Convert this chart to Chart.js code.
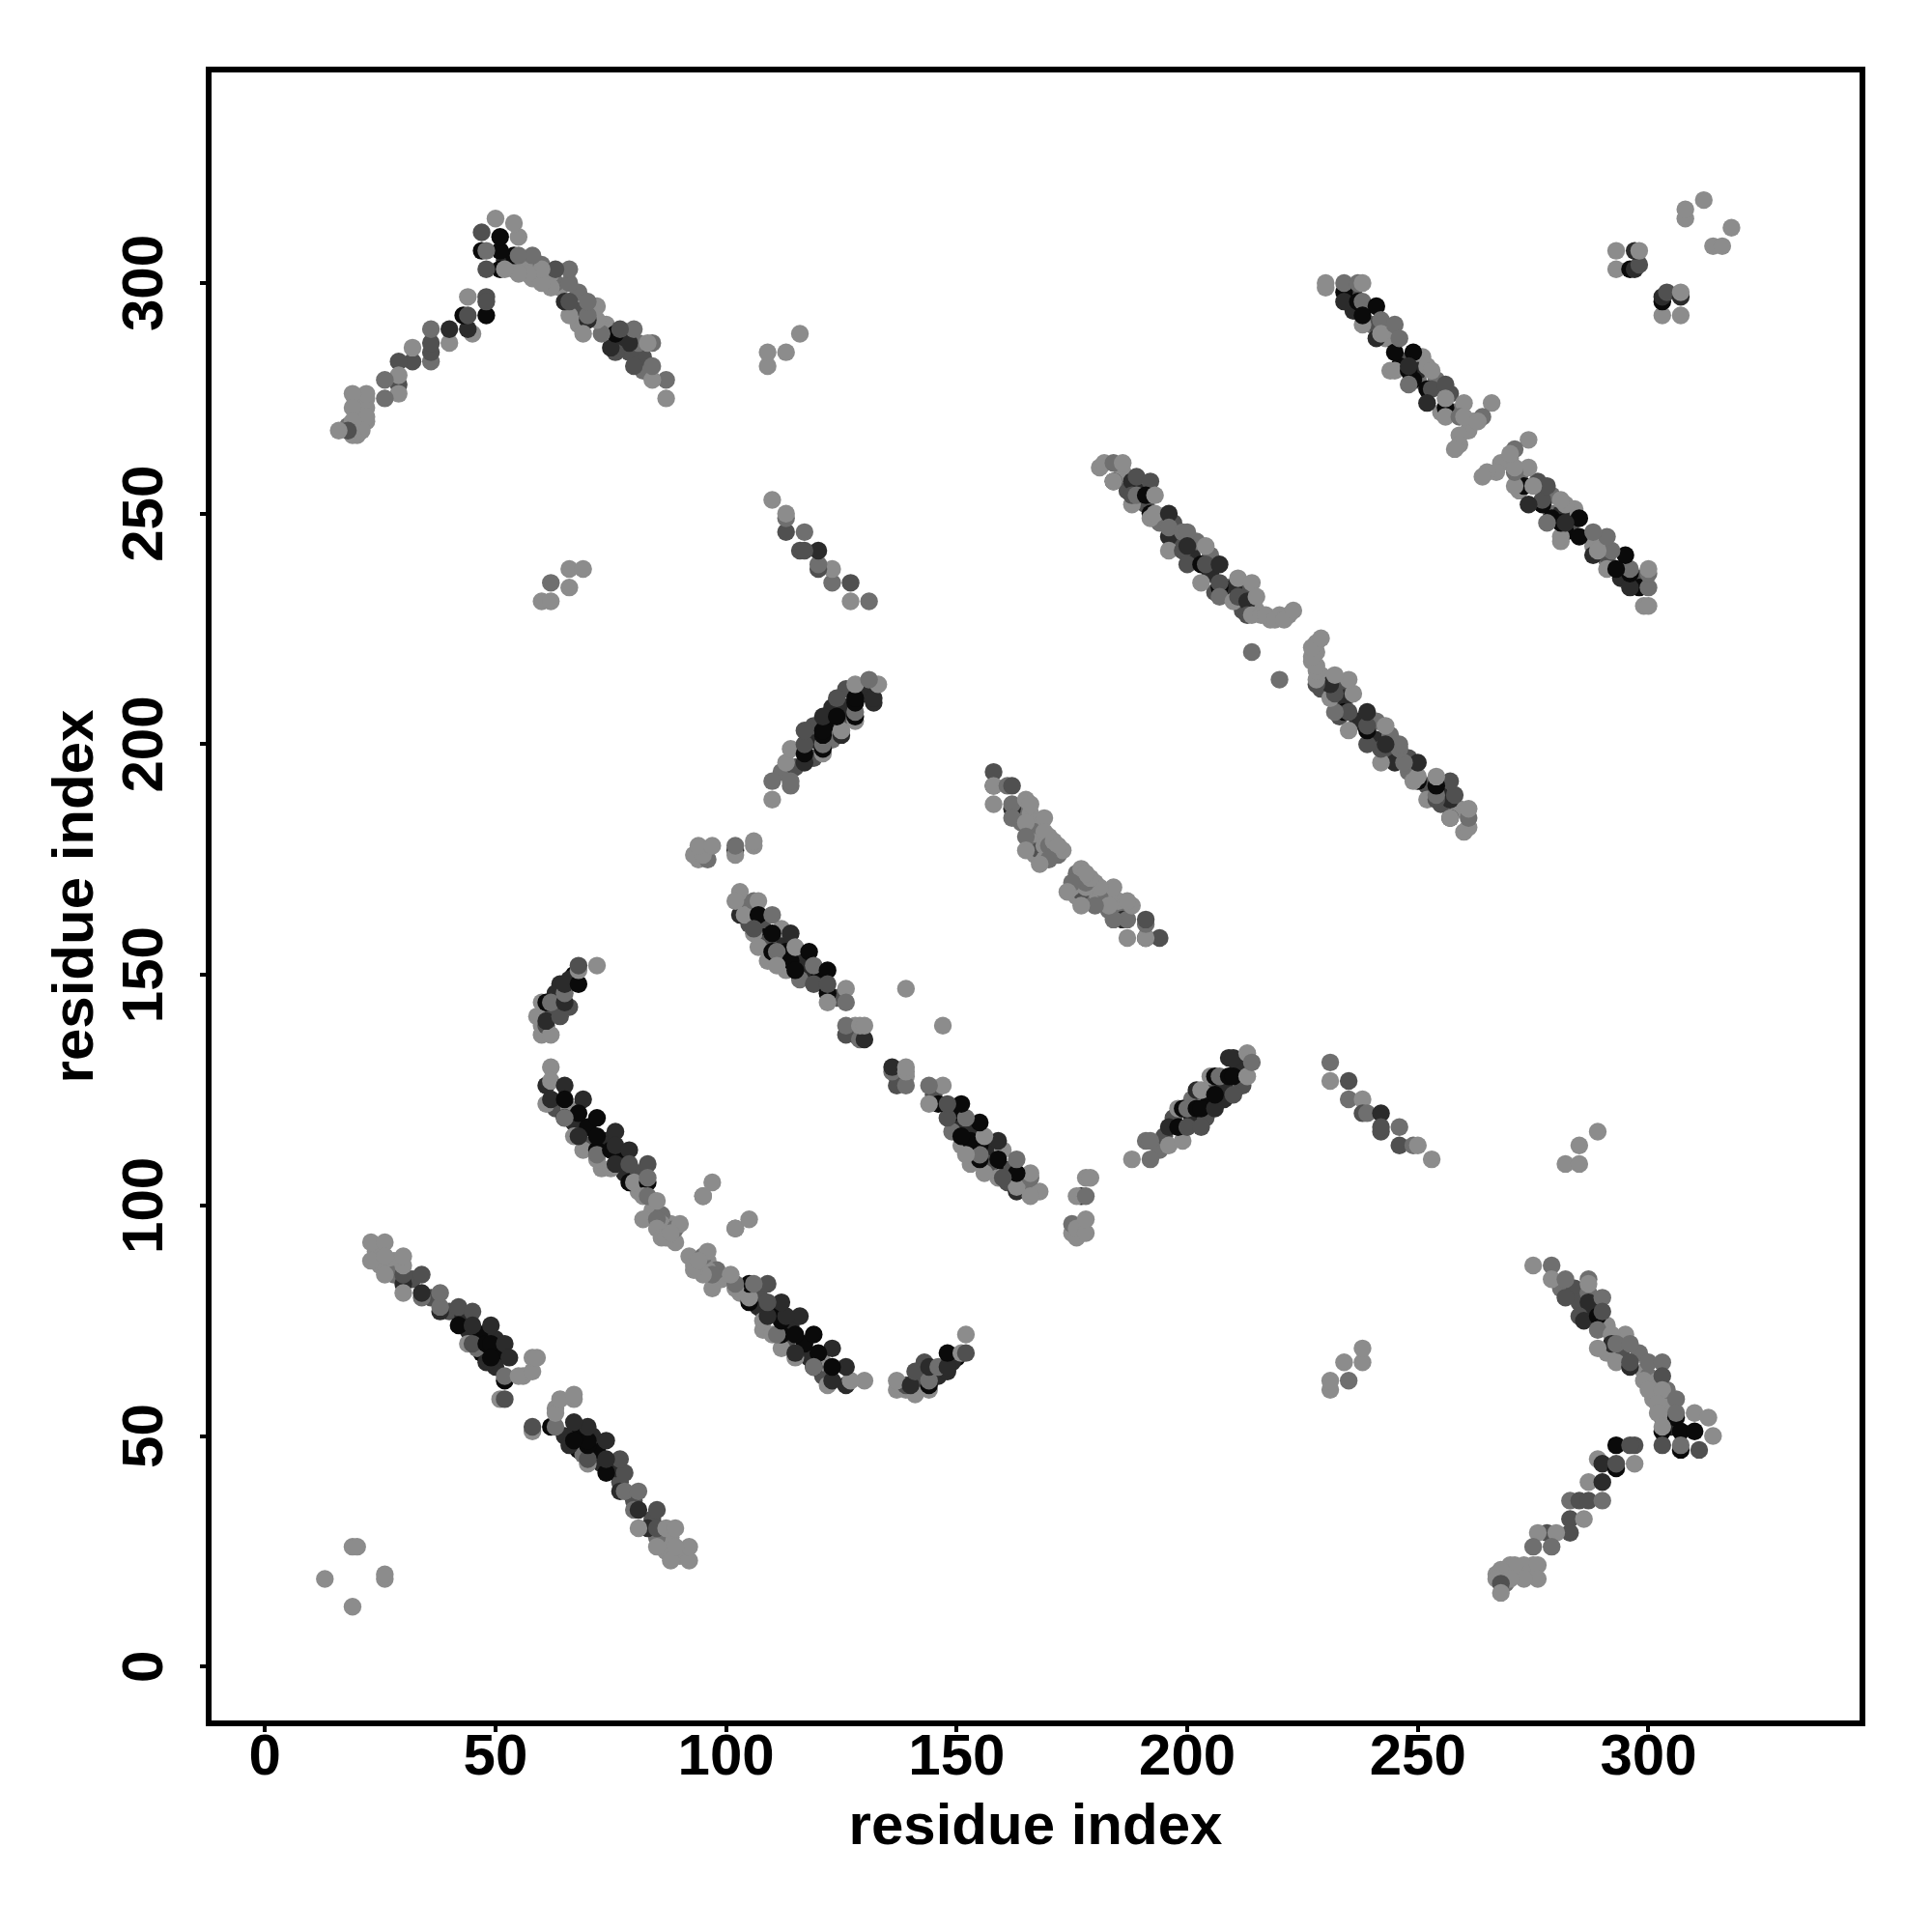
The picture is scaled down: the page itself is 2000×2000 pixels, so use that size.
<!DOCTYPE html>
<html>
<head>
<meta charset="utf-8">
<title>residue contact map</title>
<script src="https://cdn.jsdelivr.net/npm/chart.js@4/dist/chart.umd.min.js"></script>
<style>
  html, body { margin: 0; padding: 0; background: #fff; }
  canvas { display: block; }
</style>
</head>
<body>
<canvas id="contact-map" width="2000" height="2000"></canvas>
<script>
// Contacts as [residue i, residue j, score 1-5].
// The map is symmetric, each contact is only listed once.
const cornerLow = [[13,19,1],[19,26,1],[20,26,1]];
const strandA = [
  [24,90,1],[25,87,1],[28,88,1],[28,85,2],[32,84,3],[36,80,3],[40,77,3],[43,76,4],[44,73,4],[47,72,5],[50,71,4],
  [47,68,5],[51,68,5],[50,65,4],[46,69,2],
  [23,92,1],[26,92,1],[23,88,1],[26,89,1],[26,85,1],[30,83,4],[30,85,3],[30,87,1],[30,89,1],[30,81,1],
  [34,80,2],[34,81,4],[34,85,3],[38,77,4],[38,78,2],[38,81,2],[42,74,5],[42,78,3],[45,77,3],[45,74,4],
  [49,74,4],[44,70,1],[45,70,3],[48,70,5],[49,70,5],[52,70,4],[48,66,4],[49,67,5],[53,67,4],[52,62,5],
  [52,63,2],[51,58,1],[52,58,3],[56,63,1],[55,63,1],[58,64,1],[58,67,1],[59,67,1]
];
const strandB = [
  [63,146,4],[66,143,3],[63,143,4],[60,139,1],[62,142,3],[61,138,1],[67,150,5],[66,149,4],
  [59,141,1],[60,137,1],[61,139,3],[62,137,1],[61,140,4],[64,141,3],[60,144,1],[61,144,5],[62,144,2],
  [65,144,4],[64,148,4],[65,146,2],[65,148,4],[68,148,5],[68,151,1],[68,152,3],[72,152,1]
];
const strandC = [
  [63,121,3],[67,118,4],[70,117,5],[74,114,4],[77,110,5],[78,107,4],[81,107,3],[70,113,3],[66,121,1],[73,108,1],
  [69,112,1],[81,103,1],[84,99,1],[88,96,1],[87,95,2],[89,92,1],[86,98,2],[86,96,1],
  [62,130,1],[61,126,4],[62,127,1],[65,126,4],[61,122,1],[62,123,4],[65,123,5],[69,123,4],[68,120,5],
  [65,119,5],[65,119,2],[72,119,5],[67,115,1],[68,115,4],[72,112,5],[72,115,5],[72,110,1],[72,111,2],
  [76,116,4],[75,112,5],[76,113,4],[79,112,4],[75,108,1],[76,109,4],[79,109,3],[79,105,5],[80,105,1],
  [83,109,3],[83,105,5],[83,106,2],[82,102,1],[83,102,2],[85,101,1],[82,97,1],[85,97,2],[85,95,1],
  [86,93,1],[87,93,1],[89,95,2],[90,96,1],[88,94,1],[95,102,2],[95,102,1],[97,105,1]
];
const strandD = [
  [105,161,3],[108,160,5],[112,158,4],[109,157,3],[113,155,5],[116,153,4],[117,150,4],[120,149,5],[109,153,1],
  [113,151,1],[116,149,2],[124,145,3],[105,165,2],[108,162,3],[112,160,1],[128,137,3],[128,139,1],
  [103,166,2],[103,163,4],[103,168,1],[102,166,1],[104,163,1],[106,166,2],[107,166,1],[107,163,5],[110,163,2],
  [106,159,1],[106,160,3],[110,159,5],[114,159,4],[107,156,1],[110,155,5],[111,155,2],[114,153,5],[115,156,1],
  [118,155,5],[111,152,1],[115,151,5],[119,152,2],[122,151,5],[119,148,3],[122,146,5],[122,148,3],[126,147,1],
  [122,144,1],[126,144,2],[126,137,3],[126,139,2],[129,136,2],[130,136,4],[129,139,1],[130,139,1],[139,147,1]
];
const strandE = [
  [163,185,2],[164,183,2],[166,185,1],[167,183,1],[167,181,2],[168,179,2],[166,179,1],[166,177,2],[167,176,1],
  [169,176,2],[168,177,3],[170,180,1],[172,176,2],[171,177,2],[169,175,1],[173,177,1],
  [158,194,3],[158,191,4],[158,191,1],[161,191,2],[162,191,3],[158,187,1],[162,186,4],[162,187,2],[165,188,1],
  [166,187,1],[162,184,2],[169,184,1],[165,183,1],[165,180,2],[165,177,1],[169,181,1],[169,178,1],[170,178,2],
  [171,179,1],[172,178,1],[170,175,2],[168,174,1]
];
const strandF = [
  [194,112,2],[195,115,3],[197,119,3],[201,119,4],[204,122,5],[205,125,3],[208,126,4],[211,130,4],[204,119,3],
  [212,126,3],[201,123,2],[208,123,4],
  [175,94,1],[175,96,2],[176,93,1],[176,95,1],[178,94,1],[178,97,1],[177,102,4],[176,102,1],[178,102,2],
  [178,106,1],[179,106,1],[188,110,1],[192,110,2],[191,114,2],[192,114,2],[196,113,1],[199,114,1],[196,117,4],
  [198,117,5],[200,117,3],[203,117,3],[198,121,1],[199,121,5],[200,121,2],[202,121,5],[203,121,5],[206,121,4],
  [202,125,4],[203,125,1],[206,124,5],[210,124,3],[205,128,1],[206,128,5],[207,128,2],[209,128,5],[210,128,5],
  [213,128,1],[209,132,4],[210,132,4],[213,133,1],[214,131,2]
];
const strandG = [
  [231,131,2],[231,127,1],[235,127,3],[235,123,2],[238,123,1],[238,120,3],[239,120,2],[242,120,4],[242,116,3],
  [242,117,3],[246,117,2],[246,113,3],[249,113,2],[250,113,1],[253,110,1]
];
const strandH = [
  [186,258,2],[187,255,3],[190,253,2],[194,248,2],[198,244,3],[201,241,4],[202,244,2],[205,237,4],[206,233,3],
  [209,234,2],[212,233,3],[189,255,4],[186,259,1],[191,252,3],[197,248,3],[205,241,2],[215,229,1],[218,227,1],
  [220,228,1],[222,228,1],[212,229,3],[210,234,4],
  [181,260,1],[182,261,1],[184,257,4],[184,257,1],[184,261,2],[186,261,1],[188,257,4],[189,258,3],[192,257,3],
  [188,252,1],[188,254,3],[189,254,2],[191,254,5],[193,254,1],[192,250,5],[192,249,1],[193,250,1],[196,250,4],
  [196,245,4],[196,247,2],[199,246,2],[200,246,2],[196,242,1],[199,242,3],[200,243,4],[204,243,1],[200,239,3],
  [203,239,5],[204,239,3],[207,239,4],[203,235,1],[207,234,5],[207,235,3],[211,236,1],[214,235,1],[207,232,2],
  [210,231,1],[211,232,3],[213,231,4],[215,232,1],[213,228,3],[214,228,1],[216,228,1],[217,228,1],[219,227,1],
  [221,227,1],[223,229,1],[214,220,2]
];
const strandJ = [
  [243,288,1],[240,291,2],[236,294,4],[247,283,3],[250,279,2],[251,284,1],[254,279,2],[257,276,3],[258,272,2],
  [255,272,1],[262,270,1],[261,268,1],[246,282,5],[250,281,4],[249,279,5],[236,298,3],[241,291,3],
  [230,299,1],[230,300,1],[234,298,5],[234,296,4],[234,300,2],[237,300,2],[238,300,1],[237,296,5],[238,296,2],
  [241,295,5],[238,291,1],[238,293,5],[241,288,4],[242,292,2],[242,289,1],[245,291,2],[245,285,5],[246,288,2],
  [249,285,5],[244,281,1],[245,281,1],[248,281,5],[248,282,4],[252,282,1],[253,281,1],[252,277,5],[253,277,3],
  [256,278,3],[248,278,2],[252,274,4],[256,273,5],[256,275,1],[256,271,1],[260,274,1],[259,271,2],[260,271,1],
  [266,274,1],[264,271,2],[263,270,1],[259,267,1],[259,265,1],[258,264,1]
];
const cornerRight = [
  [281,82,2],[284,82,3],[288,78,4],[291,74,1],[294,68,3],[295,72,1],[298,68,2],[291,68,1],[285,79,3],
  [299,64,1],[301,61,2],[301,58,1],[303,57,1],[304,60,2],[303,54,2],[300,63,2],[302,62,1],[305,56,1],[305,52,4],[304,55,1],
  [268,20,1],[269,21,1],[270,22,1],[272,21,1],[269,18,2],[271,20,1],[274,20,1],[275,22,1],[273,22,1],[267,20,1],[269,19,3],
  [275,87,1],[279,87,2],[279,84,1],[282,84,2],[282,80,3],[287,81,2],[287,79,4],[287,84,2],[287,83,1],[290,80,2],
  [285,76,3],[286,75,4],[289,76,5],[290,77,3],[289,73,2],[292,72,1],[292,70,4],[293,70,2],[296,70,2],[289,69,1],
  [293,66,1],[296,65,4],[296,66,3],[300,66,2],[303,66,2],[299,62,1],[300,60,1],[303,63,3],[303,60,1],[302,57,1],
  [302,55,1],[306,58,2],[306,54,5],[306,55,2],[310,55,1],[313,54,1],[314,50,1],[303,51,5],[303,52,1],[307,51,5],
  [310,51,5],[303,48,3],[307,47,5],[307,48,2],[311,47,3],[293,48,5],[297,48,3],[296,48,3],[289,45,1],[290,44,4],
  [293,43,5],[293,44,3],[297,44,1],[287,40,1],[290,40,4],[283,36,2],[285,36,3],[287,36,3],[290,36,2],[283,32,3],
  [286,32,1],[283,29,3],[278,29,3],[276,29,1],[280,29,1],[275,26,2],[279,26,2],[276,22,1],[271,22,1],[268,21,1],
  [276,19,1],[273,19,1],[270,19,1],[267,19,1],[268,18,3],[268,16,1]
];
const smallPatches = [
  [231,60,1],[231,62,1],[235,62,2],[234,66,1],[238,66,1],[238,69,1],
  [282,109,1],[285,109,1],[285,113,1],[289,116,1],
  [293,307,1],[293,303,1],[296,303,5],[297,303,4],[298,304,3],[297,307,4],[298,307,1],
  [308,314,1],[308,316,1],[312,318,1]
];

const contacts = [
  ...cornerLow, ...strandA, ...strandB, ...strandC, ...strandD, ...strandE, ...strandF,
  ...strandG, ...strandH, ...strandJ, ...cornerRight, ...smallPatches
];
const tickStep = 50;
const axisTitle = "residue index";

// score 1 is the faintest, 5 nearly black
const scoreGreys = ["#8c8c8c", "#6f6f6f", "#505050", "#2b2b2b", "#0a0a0a"];

// Both halves of the map
const points = [];
const pointColors = [];
contacts.forEach(([i, j, score]) => {
  points.push({ x: i, y: j }, { x: j, y: i });
  pointColors.push(scoreGreys[score - 1], scoreGreys[score - 1]);
});

const boldFont = { family: "'Liberation Sans', Arial, sans-serif", size: 60, weight: "bold" };

// Box around the plot area
const frameBox = {
  id: "frameBox",
  afterDraw(chart) {
    const { ctx, chartArea: a } = chart;
    ctx.save();
    ctx.strokeStyle = "#000";
    ctx.lineWidth = 6;
    ctx.strokeRect(a.left, a.top, a.right - a.left, a.bottom - a.top);
    ctx.restore();
  }
};

new Chart(document.getElementById("contact-map").getContext("2d"), {
  type: "scatter",
  data: {
    datasets: [{
      data: points,
      backgroundColor: pointColors,
      pointRadius: 9.2,
      borderWidth: 0
    }]
  },
  plugins: [frameBox],
  options: {
    responsive: false,
    animation: false,
    layout: { autoPadding: false, padding: { top: 72, right: 72, left: 0, bottom: 0 } },
    plugins: { legend: { display: false }, tooltip: { enabled: false } },
    scales: {
      x: {
        type: "linear",
        min: -12.2,
        max: 346.4,
        afterFit(scale) { scale.height = 216; },
        border: { display: false },
        grid: { drawOnChartArea: false, tickLength: 9, lineWidth: 4, tickColor: "#000" },
        ticks: {
          stepSize: tickStep, includeBounds: false, autoSkip: false, maxRotation: 0,
          padding: -9, color: "#000", font: boldFont
        },
        title: { display: true, text: axisTitle, color: "#000", font: boldFont, padding: { top: 0, bottom: 72 } }
      },
      y: {
        type: "linear",
        min: -12.3,
        max: 346.3,
        afterFit(scale) { scale.width = 216; },
        border: { display: false },
        grid: { drawOnChartArea: false, tickLength: 9, lineWidth: 4, tickColor: "#000" },
        ticks: {
          stepSize: tickStep, includeBounds: false, autoSkip: false, minRotation: 90, maxRotation: 90,
          crossAlign: "center", padding: 5, color: "#000", font: boldFont
        },
        title: { display: true, text: axisTitle, color: "#000", font: boldFont, padding: { top: 43, bottom: 0 } }
      }
    }
  }
});
</script>
</body>
</html>
